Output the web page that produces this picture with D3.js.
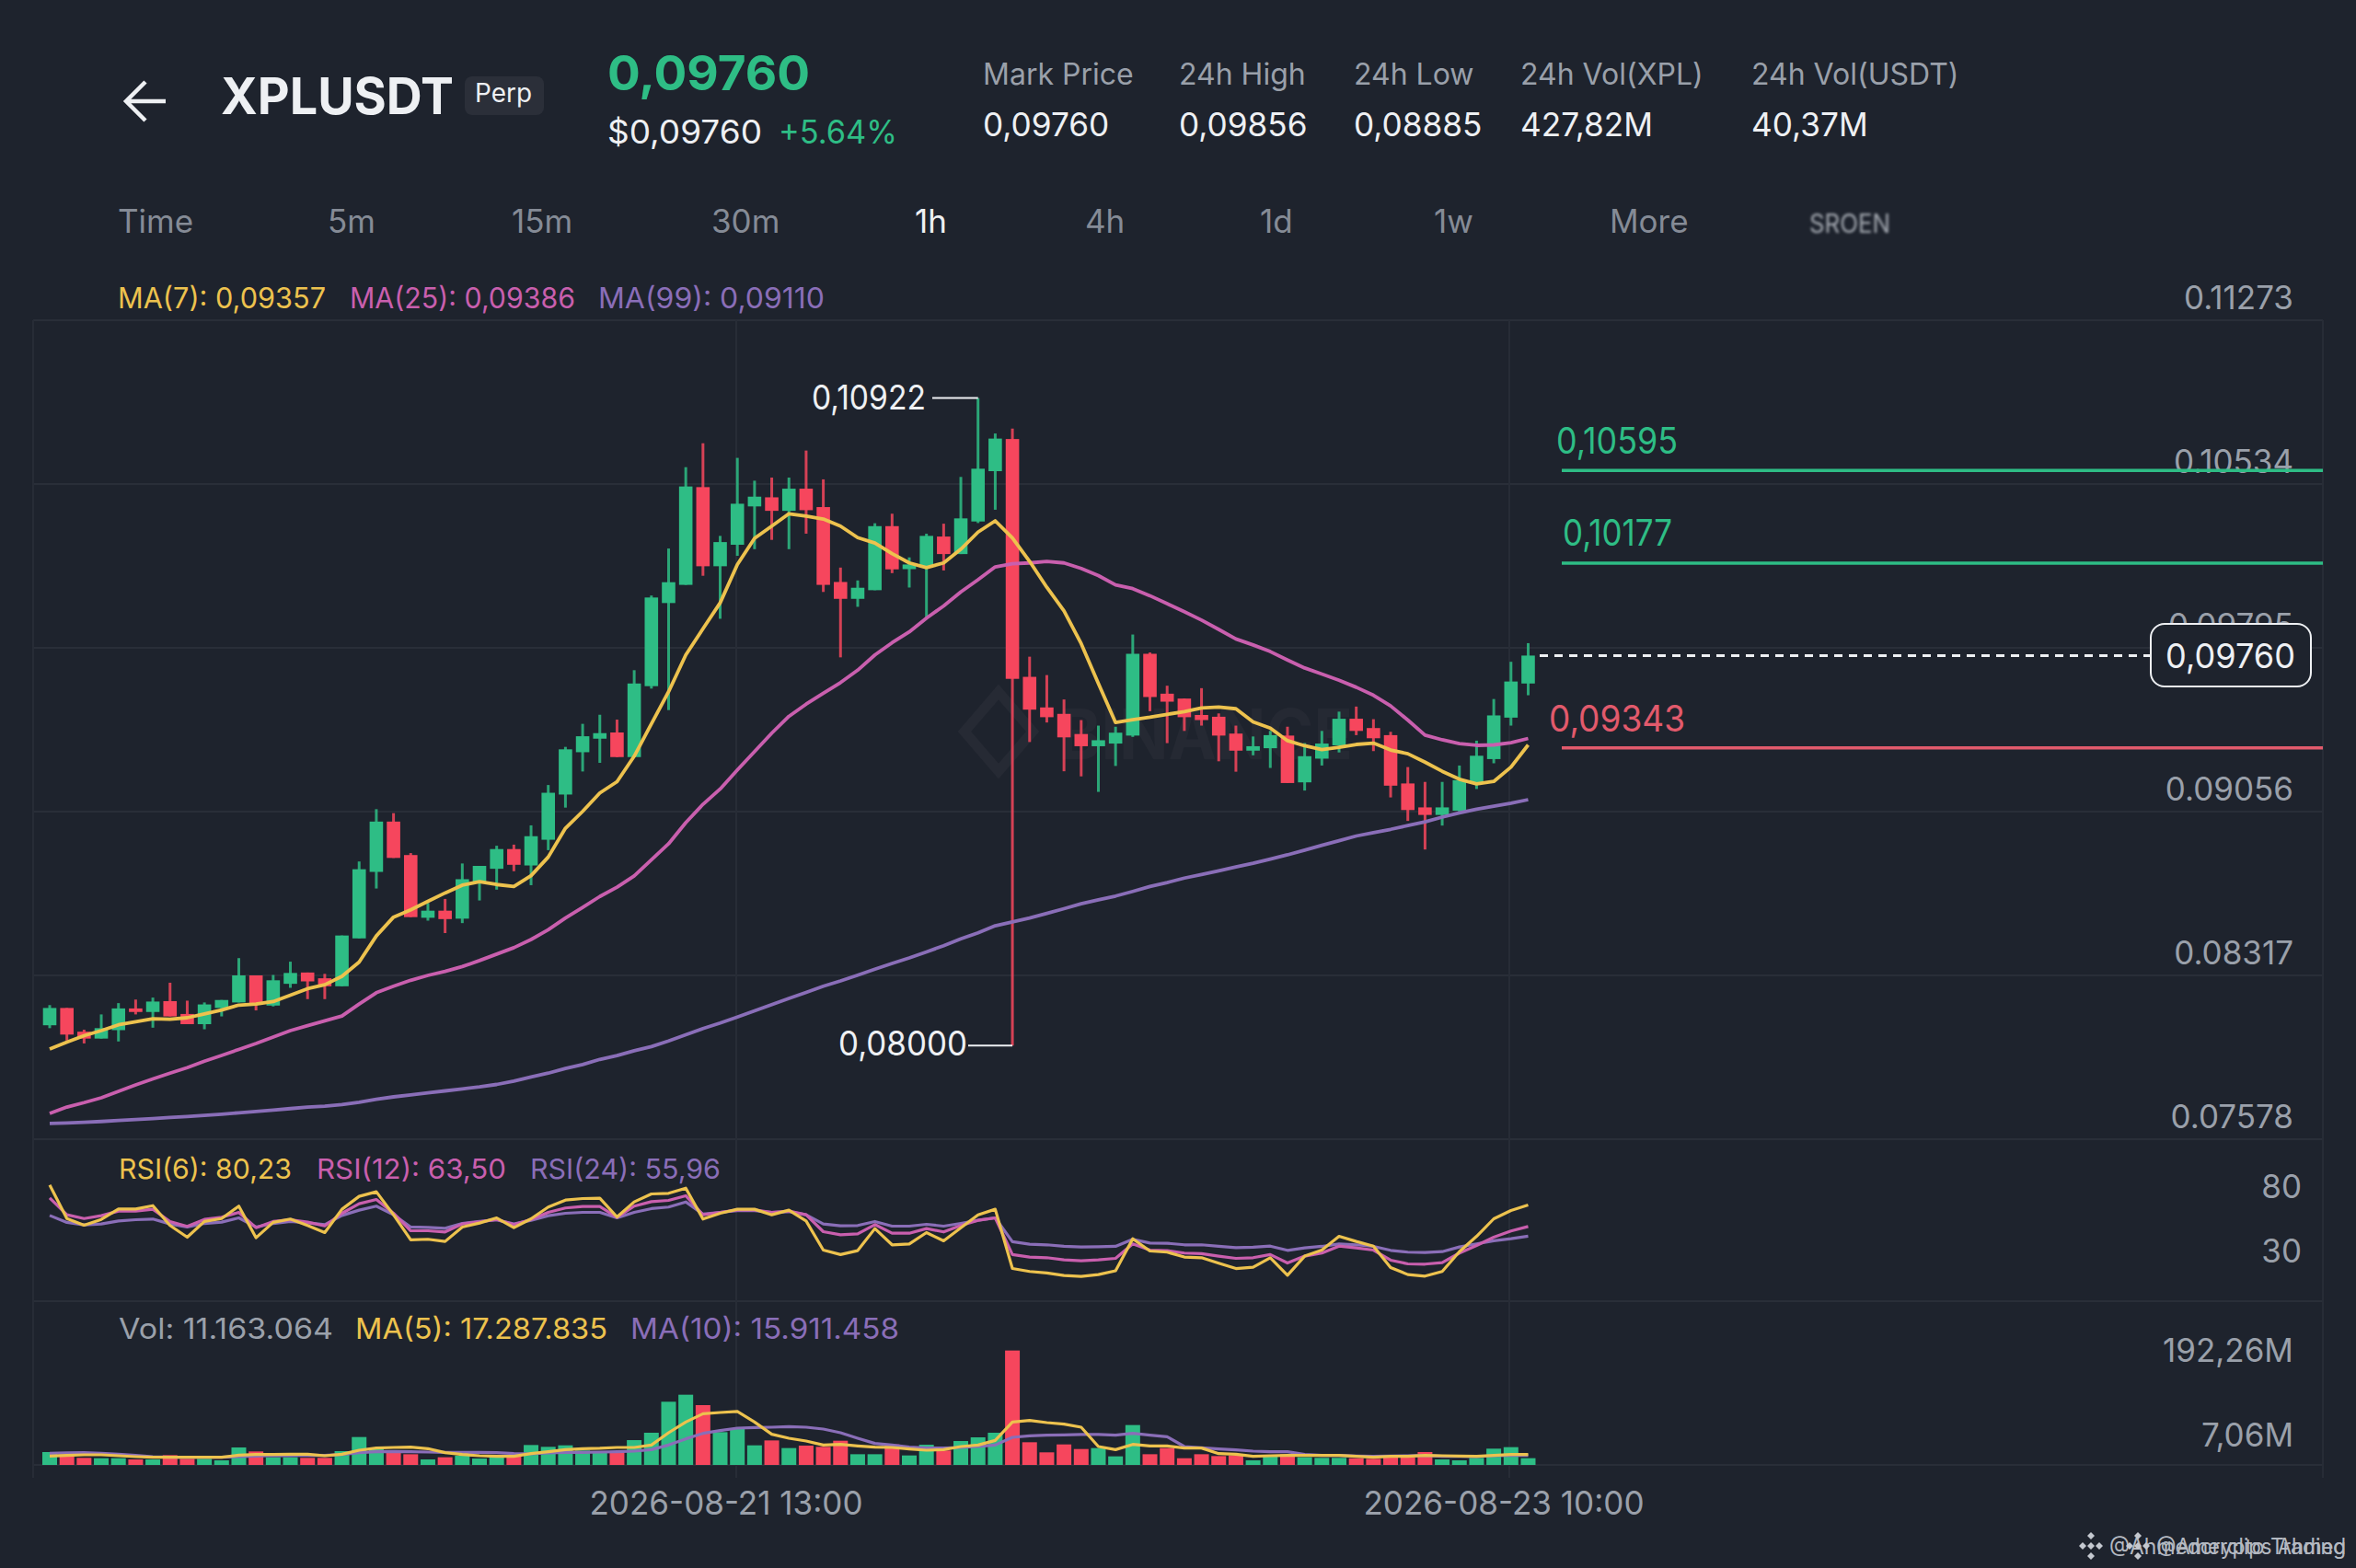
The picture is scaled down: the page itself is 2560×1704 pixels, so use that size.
<!DOCTYPE html>
<html>
<head>
<meta charset="utf-8">
<style>
  html, body { margin: 0; background: #1e232d; }
  svg { display: block; }
  text { font-family: Inter, "Noto Sans", sans-serif; }
</style>
<script src="https://cdn.jsdelivr.net/npm/d3@7"></script>
</head>
<body>
<svg id="chart" width="2560" height="1704"></svg>
<script>
// prices are in units of 0.00001
const open = [8092,8170,8063,8032,8070,8168,8152,8201,8143,8097,8170,8195,8317,8181,8279,8330,8304,8268,8484,8784,9011,8860,8577,8609,8573,8740,8798,8887,8813,8929,9133,9324,9385,9413,9302,9622,9997,10079,10520,10163,10260,10433,10474,10413,10513,10430,10092,10016,10055,10344,10150,10164,10297,10218,10365,10592,10737,9664,9526,9497,9406,9351,9363,9399,9768,9588,9566,9492,9484,9408,9331,9342,9399,9188,9295,9355,9475,9433,9401,9183,9075,9041,9060,9185,9293,9480,9634];
const close = [8170,8050,8032,8079,8168,8152,8199,8132,8097,8186,8206,8317,8188,8295,8328,8290,8268,8497,8796,9011,8847,8580,8609,8571,8751,8811,8887,8816,8945,9141,9337,9396,9410,9302,9634,10022,10091,10523,10163,10272,10445,10477,10413,10513,10416,10079,10016,10066,10344,10149,10171,10300,10218,10379,10603,10739,9655,9516,9482,9391,9351,9378,9412,9768,9573,9552,9482,9469,9399,9331,9351,9401,9185,9306,9363,9475,9420,9387,9173,9063,9041,9075,9198,9308,9490,9643,9760];
const high = [8183,8170,8072,8141,8192,8208,8217,8284,8203,8195,8206,8395,8317,8319,8379,8330,8324,8497,8831,9067,9049,8869,8644,8662,8822,8811,8902,8907,8994,9176,9348,9452,9493,9471,9694,10031,10243,10610,10718,10300,10652,10549,10563,10563,10685,10555,10157,10099,10357,10400,10203,10310,10355,10566,10922,10762,10784,9755,9672,9562,9469,9444,9439,9855,9774,9624,9566,9613,9499,9444,9395,9420,9439,9365,9420,9507,9530,9473,9416,9257,9190,9190,9264,9376,9564,9732,9816];
const low = [8079,8023,8010,8032,8019,8141,8081,8132,8097,8074,8132,8195,8159,8177,8261,8210,8210,8268,8484,8709,8847,8580,8564,8508,8553,8655,8704,8787,8724,8882,9074,9237,9276,9302,9302,9611,9514,10079,10120,9926,10210,10240,10282,10240,10310,10047,9752,9980,10055,10132,10067,9929,10144,10218,10358,10418,8000,9370,9458,9238,9215,9145,9262,9393,9509,9365,9420,9444,9283,9236,9310,9253,9185,9151,9264,9323,9401,9329,9120,9014,8885,8993,9054,9158,9274,9444,9581];

const ma7 = [7985,8016,8045,8068,8094,8108,8121,8119,8126,8143,8161,8183,8188,8199,8228,8257,8275,8313,8377,8495,8580,8613,8651,8689,8724,8740,8727,8718,8767,8851,8981,9057,9140,9191,9306,9452,9597,9763,9881,9998,10171,10289,10344,10400,10389,10376,10344,10292,10268,10220,10178,10157,10178,10240,10317,10368,10291,10185,10068,9962,9814,9634,9458,9471,9482,9495,9507,9524,9528,9520,9461,9433,9376,9353,9336,9346,9359,9365,9334,9317,9279,9238,9202,9181,9192,9257,9357];
const ma25 = [7694,7723,7743,7765,7794,7823,7850,7876,7901,7930,7956,7983,8010,8039,8068,8090,8112,8134,8188,8239,8268,8295,8317,8335,8357,8384,8413,8442,8479,8523,8576,8624,8673,8715,8766,8839,8911,9006,9089,9158,9244,9327,9410,9486,9541,9590,9638,9694,9763,9818,9867,9929,9984,10047,10102,10160,10174,10178,10185,10178,10153,10121,10079,10062,10030,9994,9958,9920,9878,9835,9808,9778,9740,9704,9677,9649,9617,9581,9533,9469,9401,9380,9363,9355,9357,9367,9386];
const ma99 = [7649,7651,7654,7658,7663,7667,7671,7676,7680,7685,7691,7697,7703,7709,7716,7723,7727,7734,7745,7758,7769,7778,7787,7796,7805,7814,7825,7840,7859,7876,7897,7915,7938,7955,7977,7996,8021,8049,8077,8102,8129,8157,8185,8213,8240,8268,8292,8318,8345,8371,8396,8423,8451,8482,8509,8541,8558,8576,8597,8618,8640,8658,8675,8696,8718,8736,8756,8772,8789,8806,8823,8842,8861,8882,8904,8925,8946,8961,8976,8993,9010,9031,9050,9067,9080,9094,9110];

const rsi6 = [95.7,69.7,64.5,69.0,77.1,77.1,79.7,64.3,55.2,67.4,69.7,79.3,54.8,66.7,69.3,64.3,58.8,76.9,86.9,90.5,72.6,53.1,53.6,51.9,63.1,66.2,70.2,62.6,69.5,78.6,84.0,85.2,85.5,70.9,82.6,88.8,89.3,93.3,69.3,73.8,76.9,76.9,72.6,76.2,67.8,45.2,41.7,44.8,61.9,49.3,50.0,58.8,52.4,62.6,72.6,76.9,30.9,28.6,27.4,25.5,24.8,26.2,29.1,54.0,44.5,43.6,39.8,39.3,35.0,30.9,31.9,39.3,25.7,40.5,45.2,55.9,51.9,48.3,31.7,26.2,25.0,28.6,44.0,55.9,69.5,75.9,80.23];
const rsi12 = [85.7,72.6,69.7,71.9,75.5,75.5,76.9,67.4,63.6,69.0,70.7,74.5,62.6,67.4,68.8,66.9,64.0,73.8,81.2,84.5,73.8,60.2,60.2,59.3,65.5,67.1,69.0,65.0,69.0,74.5,77.9,79.0,79.0,70.7,79.3,82.8,83.8,87.4,72.6,74.5,76.4,76.4,74.5,75.5,72.6,59.5,57.1,57.8,65.0,58.3,58.3,61.9,59.3,64.3,68.3,70.2,41.7,39.8,39.3,37.6,36.9,37.6,38.8,50.0,45.2,44.8,42.9,42.4,40.5,38.8,39.3,41.7,35.2,40.5,42.9,48.3,46.9,45.2,37.4,34.5,34.3,35.5,42.9,48.8,55.2,60.0,63.5];
const rsi24 = [72.1,66.7,64.8,65.5,67.8,68.8,69.3,65.5,63.1,65.9,66.9,70.2,63.1,65.9,67.4,66.4,65.0,72.1,76.2,79.3,72.6,63.1,62.8,62.1,65.9,67.4,68.6,65.5,68.3,71.9,73.8,74.5,74.5,70.2,74.5,77.4,78.6,82.6,73.1,74.5,75.9,75.9,74.5,75.0,72.6,65.5,64.0,64.3,67.4,63.8,63.8,65.2,63.8,65.9,68.3,70.2,51.7,49.8,49.3,48.1,47.6,47.8,48.1,53.6,50.7,50.5,49.3,49.3,48.1,47.1,47.4,48.3,45.0,46.9,48.1,50.0,49.3,48.1,45.0,43.6,43.3,44.0,47.6,50.0,52.4,54.0,55.96];

// volume in millions
const volume = [21.3,17.7,11.7,11.1,11.1,9.1,9.1,16.2,10.1,10.1,7.6,28.9,22.3,12.7,12.7,11.7,11.7,22.8,46.1,27.4,20.8,17.7,9.1,12.7,15.2,10.6,13.7,13.7,32.9,29.9,32.4,23.8,21.8,22.8,41.0,53.2,104.4,116.0,98.8,54.2,60.3,32.4,40.5,27.9,31.9,29.9,40.0,17.7,17.7,33.9,15.7,33.4,23.8,39.5,45.6,53.2,189.0,37.5,20.8,33.9,26.3,27.9,14.2,65.9,17.7,27.9,11.1,17.7,14.7,15.7,7.6,14.2,17.7,12.7,11.7,11.7,11.1,10.1,16.7,12.7,21.3,9.1,7.6,11.7,26.9,29.4,11.163];
const volMa5 = [14.7,15.7,16.7,16.7,15.2,13.7,12.7,12.7,12.7,12.7,12.7,16.2,17.2,17.2,17.7,17.7,15.2,17.7,24.3,27.9,28.9,29.4,26.9,20.3,17.2,15.2,14.2,14.2,18.7,21.8,25.3,26.9,27.4,28.9,28.9,32.9,53.2,70.9,84.6,86.6,88.2,70.9,50.7,44.1,39.5,32.9,33.9,31.4,29.4,28.9,26.3,24.3,25.3,30.4,32.9,40.5,70.9,73.5,69.9,67.4,62.3,30.4,25.3,33.9,31.4,31.4,27.9,27.9,18.7,17.7,14.2,15.2,15.7,15.7,15.7,15.7,14.2,12.7,14.2,14.2,15.7,15.2,14.7,14.2,15.7,17.2,17.288];
const volMa10 = [19.3,19.8,20.3,19.3,17.7,15.7,13.7,12.7,12.7,12.7,12.7,13.7,14.7,15.7,15.2,16.2,15.7,17.2,20.3,21.8,22.3,21.8,21.3,20.8,20.8,20.8,20.3,18.7,18.2,19.8,20.8,20.8,21.3,21.8,22.8,25.3,32.9,43.1,52.2,56.8,60.8,61.8,62.3,63.3,62.3,59.3,53.2,44.1,35.5,32.9,29.4,27.9,27.9,28.9,30.4,32.9,45.6,48.1,49.1,49.7,50.2,50.2,49.1,52.2,49.1,46.6,30.4,28.4,26.3,24.8,22.8,21.8,21.8,17.2,15.7,15.7,14.7,14.2,14.7,15.2,15.7,14.2,14.2,13.7,15.2,15.7,15.911];

const priceTicks = [11273,10534,9795,9056,8317,7578];
const rsiTicks = [80,30];
const volTicks = [["192,26M",1480],["7,06M",1572]];
const dateTicks = [["2026-08-21 13:00",789,297],["2026-08-23 10:00",1634,305]];

const intervals = [["Time",128],["5m",356],["15m",556],["30m",773],["1h",994],["4h",1179],["1d",1369],["1w",1558],["More",1749]];
const stats = [
  ["Mark Price","0,09760",1068],
  ["24h High","0,09856",1281],
  ["24h Low","0,08885",1471],
  ["24h Vol(XPL)","427,82M",1652],
  ["24h Vol(USDT)","40,37M",1903]
];

const GREEN = "#2ebd85", RED = "#f6465d", YELLOW = "#edc24e", PINK = "#c95fae", PURPLE = "#8a6eb8";
const GREY = "#9aa0aa", DIM = "#858b96", WHITE = "#eef0f3";
const ROW = 18.68, BODY = 14.6, FIRST = 54;

const svg = d3.select("#chart");
const x = d3.scaleLinear().domain([0, open.length - 1]).range([FIRST, FIRST + ROW * (open.length - 1)]);
const y = d3.scaleLinear().domain([7578, 11273]).range([1238, 348]);
const rsiY = d3.scaleLinear().domain([30, 80]).range([1379.8, 1309.8]);
const volY = d3.scaleLinear().domain([0, 192.26]).range([1592, 1465.5]);

function label(txt, px, py, size, fill, opts = {}) {
  const t = svg.append("text").attr("x", px).attr("y", py)
    .attr("font-size", size).attr("fill", fill).text(txt);
  if (opts.weight) t.attr("font-weight", opts.weight);
  if (opts.anchor) t.attr("text-anchor", opts.anchor);
  if (opts.width) t.attr("textLength", opts.width).attr("lengthAdjust", "spacingAndGlyphs");
  return t;
}

svg.append("rect").attr("width", 2560).attr("height", 1704).attr("fill", "#1e232d");

// grid
const gridYs = [348, 526, 704, 882, 1060, 1238, 1414, 1592];
svg.selectAll(".gh").data(gridYs).join("line").attr("class", "gh")
  .attr("x1", 36).attr("x2", 2524).attr("y1", d => d).attr("y2", d => d)
  .attr("stroke", "#292e38").attr("stroke-width", 2);
svg.selectAll(".gv").data([36, 800, 1640, 2524]).join("line").attr("class", "gv")
  .attr("x1", d => d).attr("x2", d => d).attr("y1", 348).attr("y2", 1606)
  .attr("stroke", "#272c36").attr("stroke-width", 2);

// faint watermark
svg.append("path").attr("d", "M1085 752L1122 795L1085 838L1048 795Z")
  .attr("fill", "none").attr("stroke", "#262a34").attr("stroke-width", 11);
label("BINANCE", 1150, 825, 76, "#252933", { weight: 700, width: 320 });

// header
svg.append("path").attr("d", "M180 110H139M158 89L137 110L158 131")
  .attr("fill", "none").attr("stroke", WHITE).attr("stroke-width", 4.5);
label("XPLUSDT", 240, 124, 55, WHITE, { weight: 700, width: 253 });
svg.append("rect").attr("x", 505).attr("y", 83).attr("width", 86).attr("height", 42).attr("rx", 8).attr("fill", "#2b2f39");
label("Perp", 516, 111, 28, WHITE, { width: 62 });
label("0,09760", 660, 98, 52, GREEN, { weight: 700, width: 220 });
label("$0,09760", 660, 156, 35, WHITE, { width: 168 });
label("+5.64%", 846, 156, 35, GREEN, { width: 129 });

stats.forEach(([name, value, px]) => {
  label(name, px, 92, 32, GREY);
  label(value, px, 148, 35.2, WHITE);
});

intervals.forEach(([name, px]) => {
  label(name, px, 253, 35, name === "1h" ? WHITE : DIM);
});
label("SROEN", 1966, 253, 28, "#a4a9b1", { width: 88 }).style("filter", "blur(1.4px)");

label("MA(7): 0,09357", 128, 335, 31, YELLOW, { width: 226 });
label("MA(25): 0,09386", 380, 335, 31, PINK, { width: 245 });
label("MA(99): 0,09110", 650, 335, 31, PURPLE, { width: 246 });

// price tick labels sit just above their grid line
svg.selectAll(".pt").data(priceTicks).join("text").attr("class", "pt")
  .attr("x", 2492).attr("y", d => y(d) - 12).attr("text-anchor", "end")
  .attr("font-size", 35).attr("fill", GREY)
  .text(d => (d / 1e5).toFixed(5));

// candles
const candles = d3.range(open.length).map(i => ({ i, o: open[i], c: close[i], h: high[i], l: low[i] }));
const col = d => d.c >= d.o ? GREEN : RED;
svg.selectAll(".wick").data(candles).join("line").attr("class", "wick")
  .attr("x1", d => x(d.i)).attr("x2", d => x(d.i))
  .attr("y1", d => y(d.h)).attr("y2", d => y(d.l))
  .attr("stroke", col).attr("stroke-width", 3).attr("stroke-opacity", 0.85);
svg.selectAll(".body").data(candles).join("rect").attr("class", "body")
  .attr("x", d => x(d.i) - BODY / 2).attr("width", BODY)
  .attr("y", d => y(Math.max(d.o, d.c)))
  .attr("height", d => Math.max(2, Math.abs(y(d.o) - y(d.c))))
  .attr("fill", col);

// moving averages
const priceLine = d3.line().x((d, i) => x(i)).y(d => y(d));
[[ma99, PURPLE], [ma25, PINK], [ma7, YELLOW]].forEach(([s, c]) => {
  svg.append("path").attr("d", priceLine(s)).attr("fill", "none")
    .attr("stroke", c).attr("stroke-width", 3.8).attr("stroke-linejoin", "round");
});

// high and low markers
const peak = d3.max(high), trough = d3.min(low);
[[peak, high.indexOf(peak), 1013, 882, 445, 124], [trough, low.indexOf(trough), 1052, 911, 1147, 140]].forEach(([v, i, from, tx, ty, w]) => {
  svg.append("line").attr("x1", from).attr("x2", x(i)).attr("y1", y(v)).attr("y2", y(v))
    .attr("stroke", WHITE).attr("stroke-width", 2);
  label((v / 1e5).toFixed(5).replace(".", ","), tx, ty, 37, WHITE, { width: w });
});

// order lines
const levels = [[10595, GREEN, 1691, 493, 132], [10177, GREEN, 1698, 593, 119], [9343, "#e25a6c", 1683, 795, 148]];
levels.forEach(([v, c, tx, ty, w]) => {
  svg.append("line").attr("x1", 1697).attr("x2", 2524).attr("y1", y(v)).attr("y2", y(v))
    .attr("stroke", c).attr("stroke-width", 3.5);
  label((v / 1e5).toFixed(5).replace(".", ","), tx, ty, 39, c, { width: w });
});

// last price
svg.append("line").attr("x1", 1673).attr("x2", 2337).attr("y1", y(9760)).attr("y2", y(9760))
  .attr("stroke", WHITE).attr("stroke-width", 3).attr("stroke-dasharray", "9 7");
svg.append("rect").attr("x", 2337).attr("y", 678).attr("width", 174).attr("height", 68).attr("rx", 15)
  .attr("fill", "#1e232d").attr("stroke", WHITE).attr("stroke-width", 2);
label("0,09760", 2353, 726, 37, WHITE, { width: 141 });

// RSI panel
label("RSI(6): 80,23", 129, 1281, 30, YELLOW, { width: 188 });
label("RSI(12): 63,50", 344, 1281, 30, PINK, { width: 206 });
label("RSI(24): 55,96", 576, 1281, 30, PURPLE, { width: 207 });
const rsiLine = d3.line().x((d, i) => x(i)).y(d => rsiY(d));
[[rsi24, PURPLE], [rsi12, PINK], [rsi6, YELLOW]].forEach(([s, c]) => {
  svg.append("path").attr("d", rsiLine(s)).attr("fill", "none")
    .attr("stroke", c).attr("stroke-width", 3.2).attr("stroke-linejoin", "round");
});
svg.selectAll(".rt").data(rsiTicks).join("text").attr("class", "rt")
  .attr("x", 2501).attr("y", d => rsiY(d) - 8).attr("text-anchor", "end")
  .attr("font-size", 35).attr("fill", GREY).text(d => d);

// volume panel
label("Vol: 11.163.064", 129, 1455, 31, GREY, { width: 233 });
label("MA(5): 17.287.835", 386, 1455, 31, YELLOW, { width: 274 });
label("MA(10): 15.911.458", 685, 1455, 31, PURPLE, { width: 292 });
svg.selectAll(".vol").data(candles).join("rect").attr("class", "vol")
  .attr("x", d => x(d.i) - 8).attr("width", 16)
  .attr("y", d => volY(volume[d.i]))
  .attr("height", d => volY(0) - volY(volume[d.i]))
  .attr("fill", col);
const volLine = d3.line().x((d, i) => x(i)).y(d => volY(d));
[[volMa10, PURPLE], [volMa5, YELLOW]].forEach(([s, c]) => {
  svg.append("path").attr("d", volLine(s)).attr("fill", "none")
    .attr("stroke", c).attr("stroke-width", 3.2).attr("stroke-linejoin", "round");
});
volTicks.forEach(([t, py]) => label(t, 2492, py, 35, GREY, { anchor: "end" }));

// time axis
dateTicks.forEach(([t, px, w]) => label(t, px, 1646, 36, GREY, { anchor: "middle", width: w }));

// doubled footer credit with the small diamond mark
const dots = [[0, -11], [0, 11], [-9, 0], [9, 0], [0, 0]];
[[2272, "@Ahmedcrypto Trading"], [2323, "@Amerclips Ahmed"]].forEach(([px, t]) => {
  dots.forEach(([dx, dy]) => {
    svg.append("path").attr("d", `M${px + dx} ${1680 + dy - 4}l4 4l-4 4l-4 -4Z`).attr("fill", "#c4c8cf");
  });
  label(t, px + 20, 1689, 24, "#b4b9c1", { width: 2549 - px - 20 });
});
</script>
</body>
</html>
